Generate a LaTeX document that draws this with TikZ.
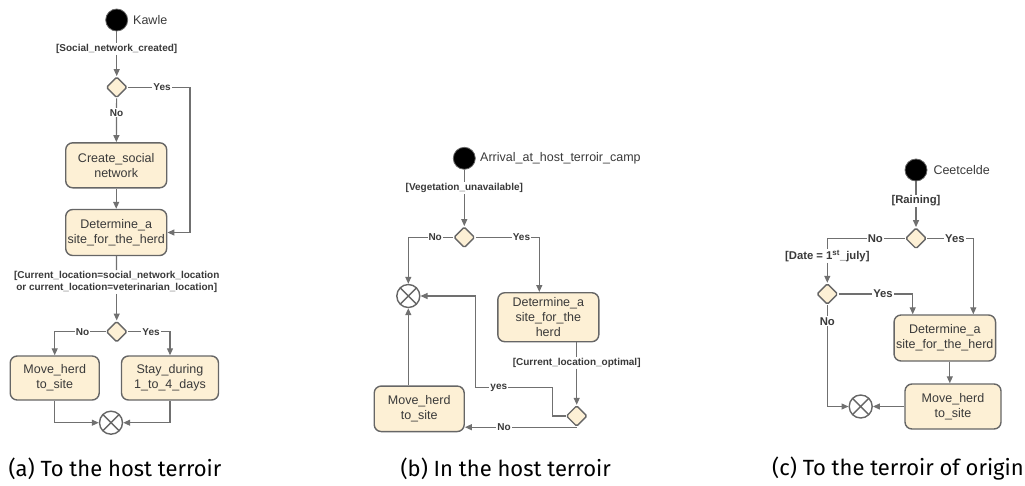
\documentclass[tikz,border=0pt]{standalone}
\usepackage{fontspec}
\setmainfont{Liberation Sans}
\newfontfamily\capfont{Fira Sans}
\usetikzlibrary{shapes.geometric,arrows.meta,calc}
\definecolor{boxfill}{HTML}{FDF0D5}
\definecolor{linegray}{HTML}{707070}
\definecolor{boxline}{HTML}{666666}
\definecolor{txt}{HTML}{3A3A3A}
\tikzset{
  actbox/.style={draw=boxline, line width=1.4pt, fill=boxfill, rounded corners=7pt,
    align=center, text=txt, font=\fontsize{12.5}{15}\selectfont, inner sep=0pt},
  decis/.style={draw=boxline, line width=1.4pt, fill=boxfill, diamond, minimum width=21pt,
    minimum height=21pt, inner sep=0pt, rounded corners=1.5pt},
  startnode/.style={circle, fill=black, draw=boxline, line width=0.8pt, minimum size=22pt, inner sep=0pt},
  mergenode/.style={circle, draw=boxline, line width=1.4pt, fill=white, minimum size=23pt, inner sep=0pt,
    path picture={\draw[boxline, line width=1.4pt] (path picture bounding box.south west) -- (path picture bounding box.north east)
      (path picture bounding box.north west) -- (path picture bounding box.south east);}},
  guard/.style={font=\bfseries\fontsize{10}{12}\selectfont, text=txt, align=center, inner sep=1pt, fill=white},
  edgelab/.style={font=\bfseries\fontsize{10}{12}\selectfont, text=txt, inner sep=1pt, fill=white},
  bigguard/.style={guard, font=\bfseries\fontsize{11.3}{13}\selectfont},
  bigedgelab/.style={edgelab, font=\bfseries\fontsize{11.3}{13}\selectfont},
  startlab/.style={font=\fontsize{12.5}{15}\selectfont, text=txt, anchor=west, inner sep=0pt},
  caption/.style={font=\capfont\fontsize{22}{26}\selectfont, text=black},
  flow/.style={draw=linegray, line width=1.2pt},
  arr/.style={flow, -{Triangle[length=7pt,width=6pt]}}
}
\begin{document}
\begin{tikzpicture}[x=1pt,y=-1pt]
\useasboundingbox (0,0) rectangle (1025,485);

% ---------------- (a) ----------------
\node[startnode] (sa) at (116.7,20) {};
\node[startlab] (sal) at (133,20) {Kawle};
\node[guard] (ga1) at (116.7,49) {[Social\_network\_created]};
\node[decis] (da1) at (116.7,87.3) {};
\node[actbox, minimum width=101pt, minimum height=45pt] (ca) at (116.2,165.3) {Create\_social\\network};
\node[actbox, minimum width=101pt, minimum height=46pt] (deta) at (116.2,232.5) {Determine\_a\\site\_for\_the\_herd};
\node[guard] (ga2) at (116.7,282) {[Current\_location=social\_network\_location\\or current\_location=veterinarian\_location]};
\node[decis] (da2) at (116.7,331.7) {};
\node[actbox, minimum width=89pt, minimum height=44pt] (mova) at (54.7,378) {Move\_herd\\to\_site};
\node[actbox, minimum width=97pt, minimum height=44pt] (staya) at (170,378) {Stay\_during\\1\_to\_4\_days};
\node[mergenode] (ma) at (111,422.7) {};

\draw[flow] (sa) -- (ga1);
\draw[arr] (ga1) -- (da1);
\draw[arr] (da1) -- node[edgelab, pos=0.33] {No} (ca);
\coordinate (ya) at (190,87.3);
\draw[arr] (da1.east) -- node[edgelab, pos=0.55] {Yes} (ya) |- (deta.east);
\draw[arr] (ca) -- (deta);
\draw[flow] (deta) -- (ga2);
\draw[arr] (ga2) -- (da2);
\draw[arr] (da2.west) -- node[edgelab, pos=0.45] {No} (da2.west -| mova.north) -- (mova.north);
\draw[arr] (da2.east) -- node[edgelab, pos=0.55] {Yes} (da2.east -| staya.north) -- (staya.north);
\draw[arr] (mova.south) |- (ma.west);
\draw[arr] (staya.south) |- (ma.east);
\node[caption] (capa) at (115,469) {(a) To the host terroir};

% ---------------- (b) ----------------
\node[startnode] (sb) at (464.3,158.3) {};
\node[startlab] (sbl) at (480,158.3) {Arrival\_at\_host\_terroir\_camp};
\node[guard] (gb1) at (464.3,188.3) {[Vegetation\_unavailable]};
\node[decis] (db1) at (464.3,237.3) {};
\node[mergenode] (mb) at (408.3,296) {};
\node[actbox, minimum width=101pt, minimum height=49pt] (detb) at (548.3,317.2) {Determine\_a\\site\_for\_the\\herd};
\node[guard] (gb2) at (576.7,362.7) {[Current\_location\_optimal]};
\node[decis] (db2) at (576.7,416) {};
\node[actbox, minimum width=90pt, minimum height=45.5pt] (movb) at (419.2,408.8) {Move\_herd\\to\_site};

\draw[flow] (sb) -- (gb1);
\draw[arr] (gb1) -- (db1);
\draw[arr] (db1.west) -- node[edgelab, pos=0.4] {No} (db1.west -| mb.north) -- (mb.north);
\coordinate (yb) at (539.3,237.3);
\draw[arr] (db1.east) -- node[edgelab, pos=0.72] {Yes} (yb) -- (yb |- detb.north);
\draw[flow] (gb2.north |- detb.south) -- (gb2);
\draw[arr] (gb2) -- (db2);
\coordinate (yb1) at (552.7,416);
\coordinate (yb2) at (552.7,387.7);
\coordinate (yb3) at (475.7,387.7);
\coordinate (yb4) at (475.7,296);
\draw[arr] (db2.west) -- (yb1) -- (yb2) -- node[edgelab, pos=0.7] {yes} (yb3) -- (yb4) -- (mb.east);
\draw[arr] (db2.south) -- node[edgelab, pos=0.65] {No} (db2.south -| movb.east);
\draw[arr] (movb.north -| mb.south) -- (mb.south);
\node[caption] (capb) at (505.7,469) {(b) In the host terroir};

% ---------------- (c) ----------------
\node[startnode] (sc) at (916,170) {};
\node[startlab] (scl) at (933.3,170) {Ceetcelde};
\node[bigguard] (gc1) at (916,201) {[Raining]};
\node[decis] (dc1) at (916,238.3) {};
\node[bigguard] (gc2) at (827.3,256) {[Date = 1\textsuperscript{st}\_july]};
\node[decis] (dc2) at (827.3,294) {};
\node[actbox, minimum width=101.5pt, minimum height=46pt] (detc) at (944.8,338) {Determine\_a\\site\_for\_the\_herd};
\node[actbox, minimum width=96pt, minimum height=45pt] (movc) at (953,406.5) {Move\_herd\\to\_site};
\node[mergenode] (mc) at (860.7,406.5) {};

\draw[flow] (sc) -- (gc1);
\draw[arr] (gc1) -- (dc1);
\draw[flow] (dc1.west) -- node[bigedgelab, pos=0.38] {No} (dc1.west -| gc2.north) -- (gc2.north);
\draw[arr] (gc2) -- (dc2);
\coordinate (yc1) at (973.3,238.3);
\draw[arr] (dc1.east) -- node[bigedgelab, pos=0.6] {Yes} (yc1) -- (yc1 |- detc.north);
\coordinate (yc2) at (912.7,294);
\draw[arr] (dc2.east) -- node[bigedgelab, pos=0.6] {Yes} (yc2) -- (yc2 |- detc.north);
\draw[arr] (dc2.south) -- node[bigedgelab, pos=0.16] {No} (dc2.south |- mc.west) -- (mc.west);
\draw[arr] ([xshift=5pt]detc.south) -- ([xshift=5pt]detc.south |- movc.north);
\draw[arr] (movc.west) -- (mc.east);
\node[caption] (capc) at (898,469) {(c) To the terroir of origin};
\end{tikzpicture}
\end{document}
